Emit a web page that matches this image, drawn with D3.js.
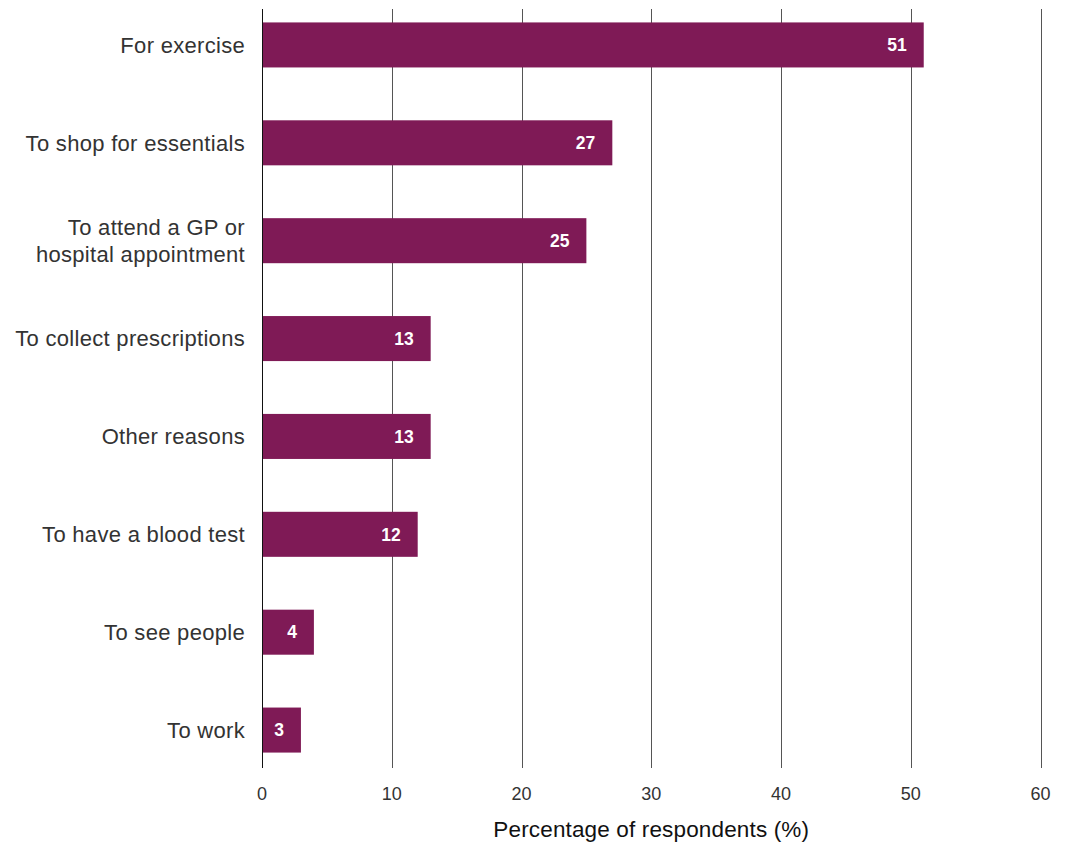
<!DOCTYPE html>
<html>
<head>
<meta charset="utf-8">
<script src="https://cdn.jsdelivr.net/npm/d3@7"></script>
<style>
  body { margin: 0; background: #fff; }
  text { font-family: "Liberation Sans", Arial, sans-serif; }
</style>
</head>
<body>
<div id="chart"></div>
<script>
// reasons for leaving home, % of respondents
var categories = [
  ["For exercise"],
  ["To shop for essentials"],
  ["To attend a GP or", "hospital appointment"],
  ["To collect prescriptions"],
  ["Other reasons"],
  ["To have a blood test"],
  ["To see people"],
  ["To work"]
];
var values = [51, 27, 25, 13, 13, 12, 4, 3];
var xTicks = [0, 10, 20, 30, 40, 50, 60];

var width = 1065, height = 844;

var svg = d3.select("#chart")
  .append("svg")
  .attr("width", width)
  .attr("height", height);

var x = d3.scaleLinear().domain([0, 60]).range([262, 1040.5]);

var y = d3.scaleBand()
  .domain(d3.range(categories.length))
  .range([-4, 779])
  .paddingInner(0.54)
  .paddingOuter(0.27);

// vertical grid lines
svg.append("g")
  .selectAll("line")
  .data(xTicks)
  .enter()
  .append("line")
  .attr("x1", d => Math.round(x(d)) + 0.5)
  .attr("x2", d => Math.round(x(d)) + 0.5)
  .attr("y1", 9)
  .attr("y2", 768)
  .attr("stroke", d => d === 0 ? "#111" : "#555")
  .attr("stroke-width", 1);

// bars
svg.append("g")
  .selectAll("rect")
  .data(values)
  .enter()
  .append("rect")
  .attr("x", x(0) + 1)
  .attr("y", (d, i) => y(i))
  .attr("width", d => x(d) - x(0) - 1)
  .attr("height", y.bandwidth())
  .attr("fill", "#7f1a56");

// value labels inside bars
svg.append("g")
  .selectAll("text")
  .data(values)
  .enter()
  .append("text")
  .attr("x", d => x(d) - 17)
  .attr("y", (d, i) => y(i) + y.bandwidth() / 2)
  .attr("dy", "0.36em")
  .attr("text-anchor", "end")
  .attr("fill", "#fff")
  .style("font-size", "17.5px")
  .style("font-weight", "bold")
  .text(d => d);

// category labels
var cat = svg.append("g")
  .selectAll("text")
  .data(categories)
  .enter()
  .append("text")
  .attr("text-anchor", "end")
  .attr("fill", "#333")
  .style("font-size", "22px")
  .style("letter-spacing", "0.3px")
  .attr("transform", (d, i) => "translate(245," + (y(i) + y.bandwidth() / 2) + ")");

cat.selectAll("tspan")
  .data(d => d)
  .enter()
  .append("tspan")
  .attr("x", 0)
  .attr("y", (t, j, nodes) => (j - (nodes.length - 1) / 2) * 26.5)
  .attr("dy", "0.36em")
  .text(t => t);

// x axis tick labels
svg.append("g")
  .selectAll("text")
  .data(xTicks)
  .enter()
  .append("text")
  .attr("x", d => x(d))
  .attr("y", 800)
  .attr("text-anchor", "middle")
  .attr("fill", "#333")
  .style("font-size", "18px")
  .text(d => d);

// axis title
svg.append("text")
  .attr("x", x(30))
  .attr("y", 837)
  .attr("text-anchor", "middle")
  .attr("fill", "#111")
  .style("font-size", "22.5px")
  .style("letter-spacing", "0.15px")
  .text("Percentage of respondents (%)");
</script>
</body>
</html>
